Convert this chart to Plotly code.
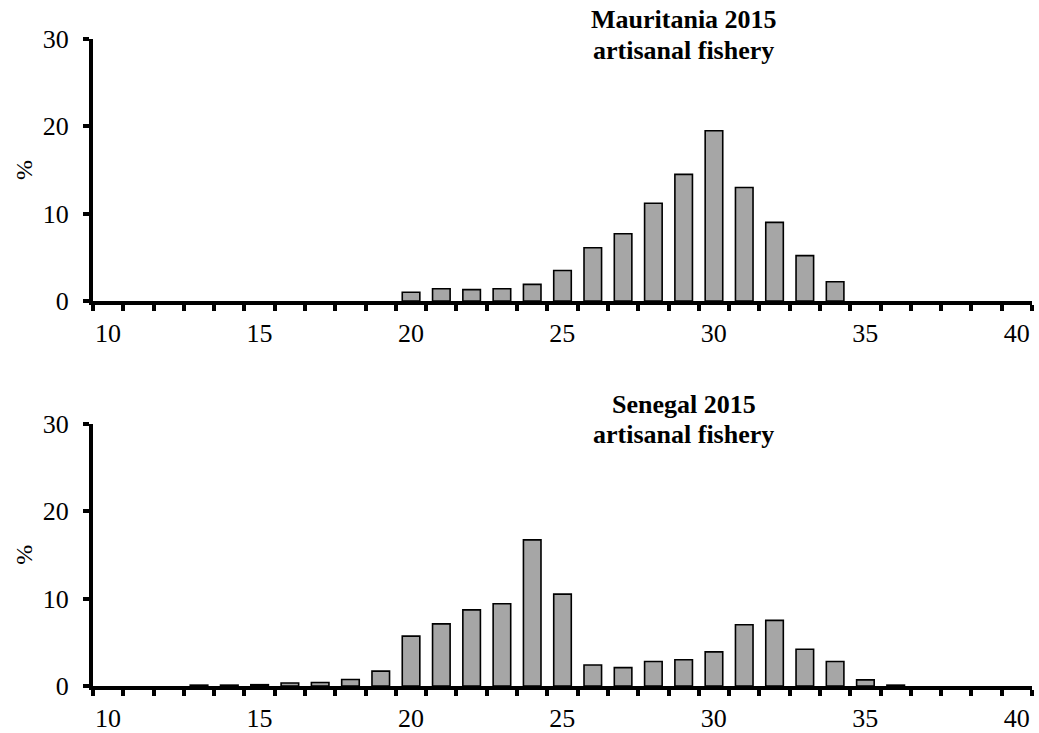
import plotly.graph_objects as go

# Length classes (cm) and percentage frequencies per class
length_classes = list(range(10, 41))

mauritania_pct = [0, 0, 0, 0, 0, 0, 0, 0, 0, 0,
                  1.0, 1.4, 1.3, 1.4, 1.9, 3.5, 6.1, 7.7, 11.2, 14.5,
                  19.5, 13.0, 9.0, 5.2, 2.2, 0, 0, 0, 0, 0, 0]

senegal_pct = [0, 0, 0, 0.1, 0.1, 0.15, 0.35, 0.4, 0.75, 1.7,
               5.7, 7.1, 8.7, 9.4, 16.7, 10.5, 2.4, 2.1, 2.8, 3.0,
               3.9, 7.0, 7.5, 4.2, 2.8, 0.7, 0.1, 0, 0, 0, 0]

x_tick_labels = [10, 15, 20, 25, 30, 35, 40]
y_tick_vals = [0, 10, 20, 30]

panel_titles = [("Mauritania 2015", "artisanal fishery"),
                ("Senegal 2015", "artisanal fishery")]

W, H = 1039, 733
FONT = "Liberation Serif, Times New Roman, serif"
BAR_FILL = "#a6a6a6"

fig = go.Figure()

for i, vals in enumerate([mauritania_pct, senegal_pct]):
    suffix = "" if i == 0 else "2"
    fig.add_trace(go.Bar(
        x=length_classes, y=[v if v > 0 else None for v in vals], width=0.58,
        marker=dict(color=BAR_FILL, line=dict(color="black", width=1.6)),
        xaxis="x" + suffix, yaxis="y" + suffix, showlegend=False,
    ))

# pixel geometry of the two panels
x_left, x_right = 93, 1032
panels = [(39, 301), (423.5, 686)]   # (top, bottom) in pixels
x_lo, x_hi = length_classes[0] - 0.5, length_classes[-1] + 0.5
unit_px = (x_right - x_left) / (x_hi - x_lo)

# category-style axis: ticks sit on the class boundaries,
# labels are centred on the classes
boundaries = [x_lo + k for k in range(int(x_hi - x_lo) + 1)]
boundary_text = [str(int(b + 0.5)) if int(b + 0.5) in x_tick_labels else "" for b in boundaries]


def xaxis_cfg(anchor):
    return dict(
        domain=[x_left / W, x_right / W], anchor=anchor, automargin=False,
        range=[x_lo, x_hi], tickmode="array", tickvals=boundaries, ticktext=boundary_text,
        ticks="outside", ticklen=6, tickwidth=3.5, tickcolor="black",
        ticklabelshift=int(round(unit_px / 2)), ticklabelstandoff=0,
        showgrid=False, zeroline=False,
        showline=True, linecolor="black", linewidth=4,
        tickfont=dict(family=FONT, size=26, color="black"),
        fixedrange=True,
    )


def yaxis_cfg(anchor, top, bottom):
    return dict(
        domain=[1 - bottom / H, 1 - top / H], anchor=anchor, automargin=False,
        range=[0, 30], tickmode="array", tickvals=y_tick_vals,
        ticks="outside", ticklen=6, tickwidth=3.5, tickcolor="black",
        ticklabelstandoff=9,
        showgrid=False, zeroline=False,
        showline=True, linecolor="black", linewidth=4,
        tickfont=dict(family=FONT, size=26, color="black"),
        fixedrange=True,
    )


annotations = []
for i, ((top, bottom), (line1, line2)) in enumerate(zip(panels, panel_titles)):
    suffix = "" if i == 0 else "2"
    annotations.append(dict(text="<b>%s</b>" % line1, xref="x" + suffix, x=29,
                            yref="paper", y=1 - (top - 19) / H, yanchor="middle",
                            showarrow=False, font=dict(family=FONT, size=26, color="black")))
    annotations.append(dict(text="<b>%s</b>" % line2, xref="x" + suffix, x=29,
                            yref="paper", y=1 - (top + 11) / H, yanchor="middle",
                            showarrow=False, font=dict(family=FONT, size=26, color="black")))
    annotations.append(dict(text="%", textangle=-90, xref="paper", x=24 / W,
                            yref="paper", y=1 - (top + bottom) / 2 / H,
                            xanchor="center", yanchor="middle", showarrow=False,
                            font=dict(family=FONT, size=24, color="black")))

fig.update_layout(
    width=W, height=H,
    margin=dict(l=0, r=0, t=0, b=0),
    paper_bgcolor="white", plot_bgcolor="white",
    xaxis=xaxis_cfg("y"),
    yaxis=yaxis_cfg("x", *panels[0]),
    xaxis2=xaxis_cfg("y2"),
    yaxis2=yaxis_cfg("x2", *panels[1]),
    annotations=annotations,
)

fig.write_html("out.html", config={"displayModeBar": False})
